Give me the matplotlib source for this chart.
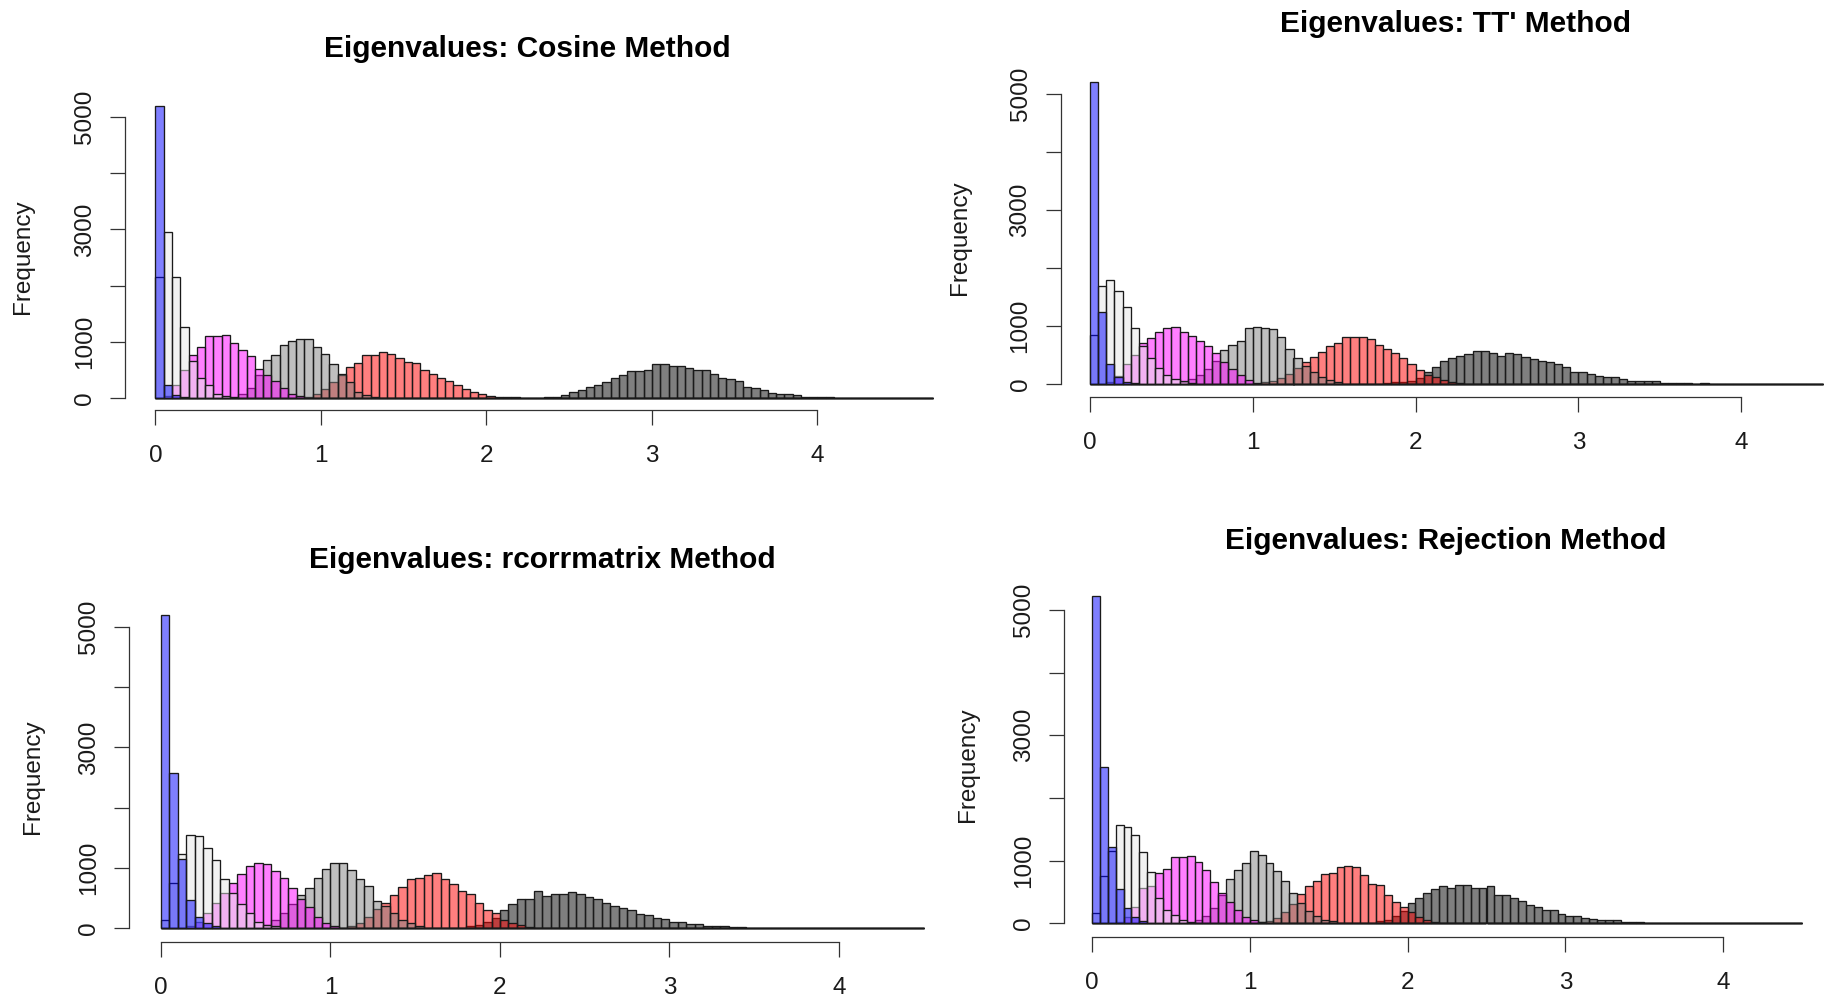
import matplotlib
matplotlib.use("Agg")
import matplotlib.pyplot as plt
import numpy as np

plt.rcParams["font.family"] = ["Liberation Sans", "DejaVu Sans"]

W, H = 1833, 1005
BIN_WIDTH = 0.05

# series order = drawing order: largest eigenvalue first, smallest last
series_names = ["eig1", "eig2", "eig3", "eig4", "eig5", "eig6"]
series_fills = [(0, 0, 0, 0.5), (1, 0, 0, 0.5), (0.5, 0.5, 0.5, 0.5),
                (1, 0, 1, 0.5), (0.9, 0.9, 0.9, 0.5), (0, 0, 1, 0.5)]

titles = ["Eigenvalues: Cosine Method", "Eigenvalues: TT' Method",
          "Eigenvalues: rcorrmatrix Method", "Eigenvalues: Rejection Method"]
x_ticks = [0, 1, 2, 3, 4]
y_ticks = [0, 1000, 2000, 3000, 4000, 5000]
y_tick_labels = ["0", "1000", "", "3000", "", "5000"]

# last histogram break of each panel
break_end = [4.70, 4.50, 4.50, 4.50]

# first break of each series, same order as series_names
cosine_starts = [2.35, 0.90, 0.50, 0.05, 0.00, 0.00]
cosine_eig1 = [5, 10, 40, 100, 145, 190, 220, 280, 355, 410, 475, 470, 490,
               595, 605, 565, 560, 535, 500, 490, 430, 350, 340, 300, 190, 180,
               145, 90, 70, 70, 40, 12, 10, 8, 5]
cosine_eig2 = [20, 60, 150, 280, 400, 545, 620, 755, 755, 815, 785, 710, 635,
               620, 500, 415, 355, 290, 220, 150, 100, 60, 35, 12, 10, 5]
cosine_eig3 = [60, 180, 400, 680, 770, 935, 1010, 1040, 1040, 905, 785, 595,
               430, 280, 100, 40, 15]
cosine_eig4 = [30, 220, 490, 760, 900, 1095, 1095, 1110, 980, 845, 745, 515,
               400, 290, 170, 70, 25]
cosine_eig5 = [2160, 2960, 2145, 1265, 650, 360, 220, 70, 30, 10]
cosine_eig6 = [5200, 220, 50, 10]

tt_starts = [1.80, 1.05, 0.55, 0.10, 0.00, 0.00]
tt_eig1 = [15, 30, 40, 60, 110, 210, 285, 400, 450, 480, 515, 565, 565, 530,
           490, 540, 515, 470, 425, 400, 375, 340, 285, 210, 210, 180, 145,
           125, 125, 80, 50, 50, 50, 50, 20, 15, 10, 10, 0, 15]
tt_eig2 = [30, 60, 110, 180, 280, 385, 470, 560, 660, 715, 815, 805, 805, 770,
           665, 600, 530, 445, 340, 240, 155, 115, 70, 40, 20]
tt_eig3 = [30, 80, 150, 250, 400, 585, 670, 740, 970, 990, 970, 940, 815, 610,
           455, 310, 210, 125, 70, 40]
tt_eig4 = [40, 130, 345, 500, 715, 800, 900, 960, 990, 900, 835, 740, 655,
           530, 385, 255, 155, 70, 25]
tt_eig5 = [850, 1695, 1785, 1600, 1335, 960, 655, 440, 270, 155, 85, 50, 20]
tt_eig6 = [5210, 1240, 345, 125, 40, 10]

rcorr_starts = [1.80, 1.10, 0.60, 0.15, 0.00, 0.00]
rcorr_eig1 = [20, 50, 90, 155, 290, 390, 485, 485, 610, 525, 555, 555, 590,
              555, 510, 480, 410, 355, 335, 290, 235, 210, 165, 140, 90, 90,
              60, 60, 35, 20, 20, 15, 10]
rcorr_eig2 = [30, 70, 185, 305, 415, 545, 670, 805, 835, 875, 905, 805, 725,
              610, 555, 405, 295, 240, 130, 70, 45, 15]
rcorr_eig3 = [50, 120, 250, 400, 545, 655, 835, 985, 1070, 1070, 960, 805, 695,
              445, 360, 240, 130, 70, 30]
rcorr_eig4 = [30, 100, 240, 415, 570, 740, 890, 1030, 1070, 1055, 950, 835,
              665, 475, 340, 185, 85, 30]
rcorr_eig5 = [130, 740, 1225, 1540, 1525, 1320, 1125, 805, 580, 395, 240, 100,
              45, 25]
rcorr_eig6 = [5200, 2580, 1140, 460, 185, 70, 25]

reject_starts = [1.80, 1.05, 0.65, 0.15, 0.00, 0.00]
reject_eig1 = [30, 60, 120, 200, 330, 400, 480, 550, 595, 570, 610, 610, 570,
               570, 595, 450, 450, 400, 355, 290, 265, 215, 215, 150, 115, 115,
               90, 70, 55, 55, 55, 25, 25, 25]
reject_eig2 = [15, 40, 90, 180, 310, 470, 595, 675, 780, 800, 895, 915, 895,
               770, 620, 610, 450, 335, 265, 185, 95, 55, 25, 10]
reject_eig3 = [50, 120, 250, 450, 700, 850, 970, 1155, 1085, 960, 840, 680,
               490, 330, 200, 120, 60, 30]
reject_eig4 = [25, 100, 265, 560, 595, 800, 860, 1050, 1050, 1075, 985, 850,
               665, 480, 345, 215, 95, 55, 20]
reject_eig5 = [160, 755, 1150, 1570, 1540, 1410, 1130, 825, 400, 215, 130, 50,
               25]
reject_eig6 = [5230, 2500, 1225, 545, 240, 105, 40]

panel_starts = [cosine_starts, tt_starts, rcorr_starts, reject_starts]
panel_counts = [
    [cosine_eig1, cosine_eig2, cosine_eig3, cosine_eig4, cosine_eig5, cosine_eig6],
    [tt_eig1, tt_eig2, tt_eig3, tt_eig4, tt_eig5, tt_eig6],
    [rcorr_eig1, rcorr_eig2, rcorr_eig3, rcorr_eig4, rcorr_eig5, rcorr_eig6],
    [reject_eig1, reject_eig2, reject_eig3, reject_eig4, reject_eig5, reject_eig6],
]

# layout in pixels: x of value 0, px per unit, y of count 0, px per count,
# y-axis line x, x-axis line y, title centre, ylabel centre
layouts = [
    dict(x0=155.5, sx=165.5, y0=397.7, sy=0.05608, yax=125, xax=410,
         title=(527, 49), ylab=(23, 257)),
    dict(x0=1090, sx=162.8, y0=384, sy=0.058, yax=1060.7, xax=396.7,
         title=(1456, 24), ylab=(960, 238)),
    dict(x0=161, sx=169.5, y0=927.7, sy=0.06008, yax=129, xax=941.7,
         title=(542, 560), ylab=(33, 777)),
    dict(x0=1092, sx=157.8, y0=923.3, sy=0.06267, yax=1064, xax=936.7,
         title=(1446, 541), ylab=(968, 765)),
]

XLIM = (-0.3, 4.8)
YLIM = (-400, 5450)
AXIS_COLOR = "#333333"


def draw_hist(ax, start, counts, end, fill):
    n_bins = int(round(end / BIN_WIDTH))
    heights = np.zeros(n_bins)
    i0 = int(round(start / BIN_WIDTH))
    heights[i0:i0 + len(counts)] = counts
    lefts = np.arange(n_bins) * BIN_WIDTH
    ax.bar(lefts, heights, width=BIN_WIDTH, align="edge", color=fill,
           edgecolor="#1a1a1a", linewidth=0.95)


fig = plt.figure(figsize=(W / 100, H / 100), dpi=100)

for k, lay in enumerate(layouts):
    left = (lay["x0"] + XLIM[0] * lay["sx"]) / W
    width = (XLIM[1] - XLIM[0]) * lay["sx"] / W
    bottom = (H - (lay["y0"] - YLIM[0] * lay["sy"])) / H
    height = (YLIM[1] - YLIM[0]) * lay["sy"] / H
    ax = fig.add_axes([left, bottom, width, height])
    ax.set_xlim(*XLIM)
    ax.set_ylim(*YLIM)
    ax.patch.set_visible(False)

    for start, counts, fill in zip(panel_starts[k], panel_counts[k], series_fills):
        draw_hist(ax, start, counts, break_end[k], fill)

    for side in ("top", "right"):
        ax.spines[side].set_visible(False)
    ax.spines["left"].set_position(("data", (lay["yax"] - lay["x0"]) / lay["sx"]))
    ax.spines["bottom"].set_position(("data", -(lay["xax"] - lay["y0"]) / lay["sy"]))
    ax.spines["left"].set_bounds(0, 5000)
    ax.spines["bottom"].set_bounds(0, 4)
    for side in ("left", "bottom"):
        ax.spines[side].set_color(AXIS_COLOR)
        ax.spines[side].set_linewidth(0.9)

    ax.set_xticks(x_ticks)
    ax.set_xticklabels([str(v) for v in x_ticks])
    ax.set_yticks(y_ticks)
    ax.set_yticklabels(y_tick_labels)
    ax.tick_params(axis="both", direction="out", length=10.5, width=0.9,
                   color=AXIS_COLOR, labelsize=17.5, labelcolor="#1a1a1a")
    ax.tick_params(axis="x", pad=15)
    ax.tick_params(axis="y", pad=10.5, labelrotation=90)
    for t in ax.get_yticklabels():
        t.set_va("center")

    tx, ty = lay["title"]
    fig.text(tx / W, 1 - ty / H, titles[k], ha="center", va="center",
             fontsize=21.5, fontweight="bold", color="black")
    lx, ly = lay["ylab"]
    fig.text(lx / W, 1 - ly / H, "Frequency", ha="center", va="center",
             rotation=90, fontsize=17.5, color="#1a1a1a")

fig.savefig("out.png", dpi=100)
